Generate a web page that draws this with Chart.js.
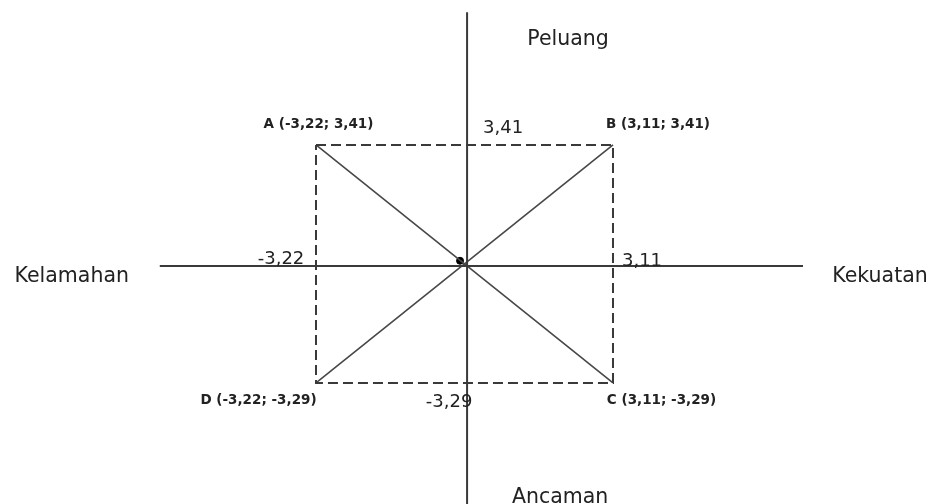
<!DOCTYPE html>
<html>
<head>
<meta charset="utf-8">
<script src="https://cdn.jsdelivr.net/npm/chart.js@4/dist/chart.umd.min.js"></script>
<style>
  html, body { margin: 0; padding: 0; background: #fff; }
  #wrap { width: 935px; height: 504px; }
</style>
</head>
<body>
<div id="wrap"><canvas id="swot" width="935" height="504"></canvas></div>
<script>
// corner points of the quadrant box
const cornerNames = ['A', 'B', 'C', 'D'];
const cornerX = [-3.22, 3.11, 3.11, -3.22];
const cornerY = [3.41, 3.41, -3.29, -3.29];

// axis lines (ends, in chart units)
const axisX = [-6.55, 7.16];
const axisY = [7.15, -6.7];

// titles at the axis ends: top, right, bottom, left
const axisTitles = ['Peluang', 'Kekuatan', 'Ancaman', 'Kelamahan'];

// values written beside the axes
const valueLabels = ['3,41', '3,11', '-3,29', '-3,22'];

// the dot near the middle
const markX = [-0.15];
const markY = [0.15];

const fmt = v => String(v).replace('.', ',');

const box = [0, 1, 2, 3, 0].map(i => ({ x: cornerX[i], y: cornerY[i] }));
const diagAC = [0, 2].map(i => ({ x: cornerX[i], y: cornerY[i] }));
const diagBD = [1, 3].map(i => ({ x: cornerX[i], y: cornerY[i] }));

const lineSet = (data, extra) => ({
  data,
  showLine: true,
  pointRadius: 0,
  borderColor: '#3a3a3a',
  borderWidth: 2,
  clip: false,
  ...extra
});

const labelPlugin = {
  id: 'swotLabels',
  afterDatasetsDraw(chart) {
    const { ctx, scales: { x, y } } = chart;
    const px = v => x.getPixelForValue(v);
    const py = v => y.getPixelForValue(v);

    const put = (text, cx, cy, font) => {
      ctx.font = font;
      ctx.fillStyle = '#222';
      ctx.textAlign = 'center';
      ctx.textBaseline = 'middle';
      ctx.fillText(text, cx, cy);
    };

    ctx.save();

    // axis titles
    const titleFont = '20.5px "DejaVu Sans", sans-serif';
    put(axisTitles[0], px(0) + 101, py(axisY[0]) + 28, titleFont);
    put(axisTitles[1], px(axisX[1]) + 77, py(0) + 11, titleFont);
    put(axisTitles[2], px(0) + 93, py(axisY[1]) - 6, titleFont);
    put(axisTitles[3], px(axisX[0]) - 88, py(0) + 11, titleFont);

    // corner labels
    const cornerFont = 'bold 13.5px "DejaVu Sans", sans-serif';
    const cornerOff = [[2.5, -20], [45, -20], [48.5, 18], [-57.5, 18]];
    cornerNames.forEach((name, i) => {
      const text = `${name} (${fmt(cornerX[i])}; ${fmt(cornerY[i])})`;
      put(text, px(cornerX[i]) + cornerOff[i][0], py(cornerY[i]) + cornerOff[i][1], cornerFont);
    });

    // values beside the axes
    const valFont = '18px "DejaVu Sans", sans-serif';
    put(valueLabels[0], px(0) + 36, py(cornerY[0]) - 17, valFont);
    put(valueLabels[1], px(cornerX[1]) + 29, py(0) - 5, valFont);
    put(valueLabels[2], px(0) - 18, py(cornerY[2]) + 19, valFont);
    put(valueLabels[3], px(cornerX[3]) - 35, py(0) - 7, valFont);

    ctx.restore();
  }
};

new Chart(document.getElementById('swot'), {
  type: 'scatter',
  data: {
    datasets: [
      lineSet(axisX.map(v => ({ x: v, y: 0 }))),
      lineSet(axisY.map(v => ({ x: 0, y: v }))),
      lineSet(box, { borderDash: [10, 5] }),
      lineSet(diagAC, { borderWidth: 1.6, borderColor: '#474747' }),
      lineSet(diagBD, { borderWidth: 1.6, borderColor: '#474747' }),
      {
        data: markX.map((v, i) => ({ x: v, y: markY[i] })),
        pointRadius: 3.5,
        backgroundColor: '#000',
        borderColor: '#000',
        clip: false
      }
    ]
  },
  options: {
    responsive: false,
    animation: false,
    layout: { padding: 0, autoPadding: false },
    plugins: {
      legend: { display: false },
      tooltip: { enabled: false }
    },
    scales: {
      x: { type: 'linear', min: -9.955, max: 9.973, display: false },
      y: { type: 'linear', min: -6.698, max: 7.492, display: false }
    }
  },
  plugins: [labelPlugin]
});
</script>
</body>
</html>
